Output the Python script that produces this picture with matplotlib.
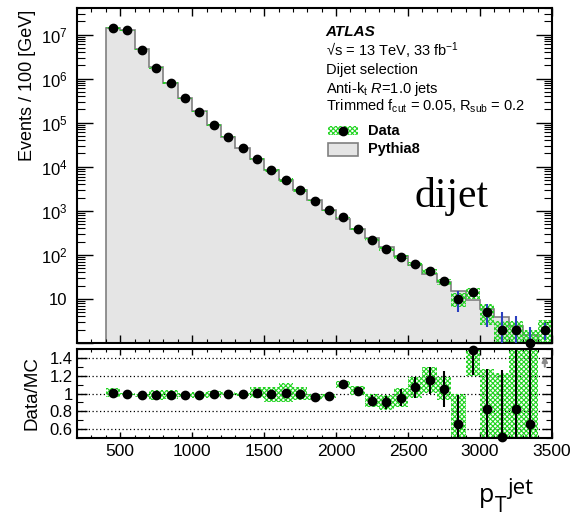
import numpy as np
import matplotlib
matplotlib.use('Agg')
import matplotlib.pyplot as plt
from matplotlib.patches import Rectangle
from matplotlib.lines import Line2D
from matplotlib.ticker import MultipleLocator, FixedLocator, LogLocator, FuncFormatter, NullFormatter

plt.rcParams['font.family'] = ['Liberation Sans', 'DejaVu Sans']
plt.rcParams['mathtext.fontset'] = 'custom'
plt.rcParams['mathtext.rm'] = 'Liberation Sans'
plt.rcParams['mathtext.it'] = 'Liberation Sans:italic'
plt.rcParams['mathtext.bf'] = 'Liberation Sans:bold'
plt.rcParams['mathtext.default'] = 'regular'
plt.rcParams['hatch.linewidth'] = 0.8

# 100 GeV bins, 400 -> 3500 GeV
bin_edges = np.arange(400, 3600, 100)

data_counts = [1.42e7, 1.25e7, 4.5e6, 1.78e6, 7.8e5, 3.55e5, 1.78e5, 8.9e4, 4.8e4, 2.65e4,
               1.5e4, 8.4e3, 5.0e3, 2.9e3, 1.69e3, 1.02e3, 705, 396, 219, 137,
               90, 63, 43, 25, 10, 14, 5, 2, 2, 1, 2]

data_mc_ratio = [1.01, 0.995, 0.98, 0.985, 0.985, 0.985, 0.985, 0.99, 1.0, 0.99,
                 1.01, 0.99, 1.01, 1.0, 0.96, 0.97, 1.105, 1.03, 0.92, 0.90,
                 0.955, 1.07, 1.15, 1.053, 0.66, 1.49, 0.83, 0.51, 0.83, 0.66, 2.5]

ratio_band = [0.05, 0.015, 0.02, 0.055, 0.05, 0.02, 0.035, 0.04, 0.02, 0.02,
              0.06, 0.085, 0.11, 0.07, 0.03, 0.02, 0.04, 0.05, 0.075, 0.08,
              0.11, 0.12, 0.145, 0.13, 0.33, 0.29, 0.45, 0.72, 0.8, 0.9, 0.8]

ratio_stat_err = [0.005, 0.005, 0.005, 0.005, 0.005, 0.005, 0.005, 0.005, 0.005, 0.005,
                  0.005, 0.008, 0.01, 0.012, 0.015, 0.02, 0.03, 0.04, 0.06, 0.075,
                  0.1, 0.12, 0.15, 0.2, 0.32, 0.28, 0.45, 0.75, 0.9, 0.9, 1.0]

main_band_rel = [0.05, 0.015, 0.02, 0.055, 0.05, 0.02, 0.035, 0.04, 0.02, 0.02,
                 0.06, 0.085, 0.11, 0.07, 0.03, 0.02, 0.04, 0.05, 0.08, 0.09,
                 0.11, 0.12, 0.14, 0.15, 0.35, 0.27, 0.5, 0.6, 0.6, 1.0, 0.65]

W, H = 570, 519
GREEN = '#22d422'
FILL = '#e5e5e5'
EDGE = '#808080'
HATCH = 'x' * 7


def fx(x):
    return x / W


def fy(y):
    return 1 - y / H


def log_label(v, pos):
    if v <= 1:
        return ''
    if abs(v - 10) < 1e-6:
        return '10'
    return '$10^{%d}$' % round(np.log10(v))


data = np.array(data_counts)
ratio = np.array(data_mc_ratio)
band = np.array(ratio_band)
stat = np.array(ratio_stat_err)
rel = np.array(main_band_rel)
centers = 0.5 * (bin_edges[:-1] + bin_edges[1:])
width = np.diff(bin_edges)
mc = data / ratio

fig = plt.figure(figsize=(W / 100, H / 100), dpi=100)
ax1 = fig.add_axes([fx(77), fy(343), fx(552) - fx(77), fy(8) - fy(343)])
ax2 = fig.add_axes([fx(77), fy(438), fx(552) - fx(77), fy(349) - fy(438)])

# main panel
ax1.set_yscale('log')
ax1.stairs(mc, bin_edges, baseline=0.1, fill=True, color=FILL, zorder=1)
ax1.stairs(mc, bin_edges, baseline=0.1, color=EDGE, lw=1.2, zorder=1.5)
lo = np.clip(data * (1 - rel), 0.1, None)
hi = data * (1 + rel)
ax1.bar(centers, hi - lo, bottom=lo, width=width, facecolor='none', edgecolor=GREEN,
        hatch=HATCH, linewidth=0, zorder=2)
err_main = stat * mc
err_lo = np.minimum(err_main, data * 0.95)
ax1.errorbar(centers, data, yerr=[err_lo, err_main], fmt='none', ecolor='#2b3fbf',
             elinewidth=1.5, zorder=3)
ax1.plot(centers, data, 'o', color='k', ms=6, zorder=4, clip_on=False)

ax1.set_xlim(200, 3500)
ax1.set_ylim(1, 4e7)
ax1.yaxis.set_major_locator(LogLocator(base=10, numticks=20))
ax1.yaxis.set_minor_locator(LogLocator(base=10, subs=np.arange(2, 10), numticks=20))
ax1.yaxis.set_major_formatter(FuncFormatter(log_label))
ax1.yaxis.set_minor_formatter(NullFormatter())

# ratio panel
ax2.bar(centers, 2 * band, bottom=ratio - band, width=width, facecolor='none', edgecolor=GREEN,
        hatch=HATCH, linewidth=0, zorder=2)
ax2.errorbar(centers, ratio, yerr=stat, fmt='none', ecolor='k', elinewidth=1.5, zorder=3)
inside = ratio <= 1.5
ax2.plot(centers[inside], ratio[inside], 'o', color='k', ms=6, zorder=4, clip_on=False)
for c in centers[~inside]:
    ax2.annotate('', xy=(c, 1.45), xytext=(c, 1.27),
                 arrowprops=dict(arrowstyle='-|>', color='#8c8c8c', lw=1.5, mutation_scale=8))

ax2.set_xlim(200, 3500)
ax2.set_ylim(0.5, 1.5)
ax2.yaxis.set_major_locator(FixedLocator([0.6, 0.8, 1.0, 1.2, 1.4]))
ax2.yaxis.set_minor_locator(MultipleLocator(0.1))
ax2.yaxis.set_major_formatter(FuncFormatter(lambda v, p: '%g' % v))
ax2.yaxis.grid(True, which='major', ls=(0, (1, 2)), color='k', lw=0.9)

for ax in (ax1, ax2):
    ax.xaxis.set_major_locator(MultipleLocator(500))
    ax.xaxis.set_minor_locator(MultipleLocator(100))
    ax.tick_params(which='both', direction='in', top=True, right=True)
    for s in ax.spines.values():
        s.set_linewidth(1.5)

ax1.tick_params(axis='y', which='major', length=11.5, width=1.0, pad=7, labelsize=12)
ax1.tick_params(axis='y', which='minor', length=5.8, width=0.8)
ax1.tick_params(axis='x', which='major', length=5.8, width=1.0, labelbottom=False)
ax1.tick_params(axis='x', which='minor', length=2.9, width=0.8)
ax2.tick_params(axis='y', which='major', length=7.2, width=1.0, pad=3, labelsize=12)
ax2.tick_params(axis='y', which='minor', length=4.3, width=0.8)
ax2.tick_params(axis='x', which='major', length=4.3, width=1.0, pad=4, labelsize=12.5)
ax2.tick_params(axis='x', which='minor', length=2.2, width=0.8)

# axis titles
fig.text(fx(28), fy(10), 'Events / 100 [GeV]', rotation=90, ha='center', va='top', fontsize=13)
fig.text(fx(32.5), fy(393.5), 'Data/MC', rotation=90, ha='center', va='center', fontsize=13.5)
fig.text(fx(479), fy(502), 'p', fontsize=18, family='Open Sans', va='baseline')
fig.text(fx(495), fy(512), 'T', fontsize=15, family='Open Sans', va='baseline')
fig.text(fx(507), fy(494), 'jet', fontsize=16, family='Open Sans', va='baseline')

# labels
fig.text(fx(325), fy(36), 'ATLAS', fontsize=11, fontweight='bold', fontstyle='italic', va='baseline')
fig.text(fx(326), fy(56), '\u221as = 13 TeV, 33 fb$^{-1}$', fontsize=10.5, va='baseline')
fig.text(fx(326), fy(74), 'Dijet selection', fontsize=10.5, va='baseline')
fig.text(fx(326), fy(93), 'Anti-k$_{t}$ $\\mathit{R}$=1.0 jets', fontsize=10.5, va='baseline')
fig.text(fx(326), fy(111), 'Trimmed f$_{cut}$ = 0.05, R$_{sub}$ = 0.2', fontsize=10.5, va='baseline')

fig.add_artist(Rectangle((fx(328), fy(135)), fx(30), 9 / H, transform=fig.transFigure,
                         facecolor='none', edgecolor=GREEN, hatch=HATCH, linewidth=0))
fig.add_artist(Line2D([fx(343)], [fy(130.5)], marker='o', color='k', ms=6, transform=fig.transFigure))
fig.text(fx(368), fy(134.7), 'Data', fontsize=10.5, fontweight='bold', va='baseline')
fig.add_artist(Rectangle((fx(328), fy(156)), fx(30), 13 / H, transform=fig.transFigure,
                         facecolor=FILL, edgecolor=EDGE, linewidth=1.2))
fig.text(fx(368), fy(153), 'Pythia8', fontsize=10.5, fontweight='bold', va='baseline')

fig.text(fx(415), fy(207), 'dijet', fontsize=30, family='Liberation Serif', va='baseline')

fig.savefig('out.png', dpi=100)
